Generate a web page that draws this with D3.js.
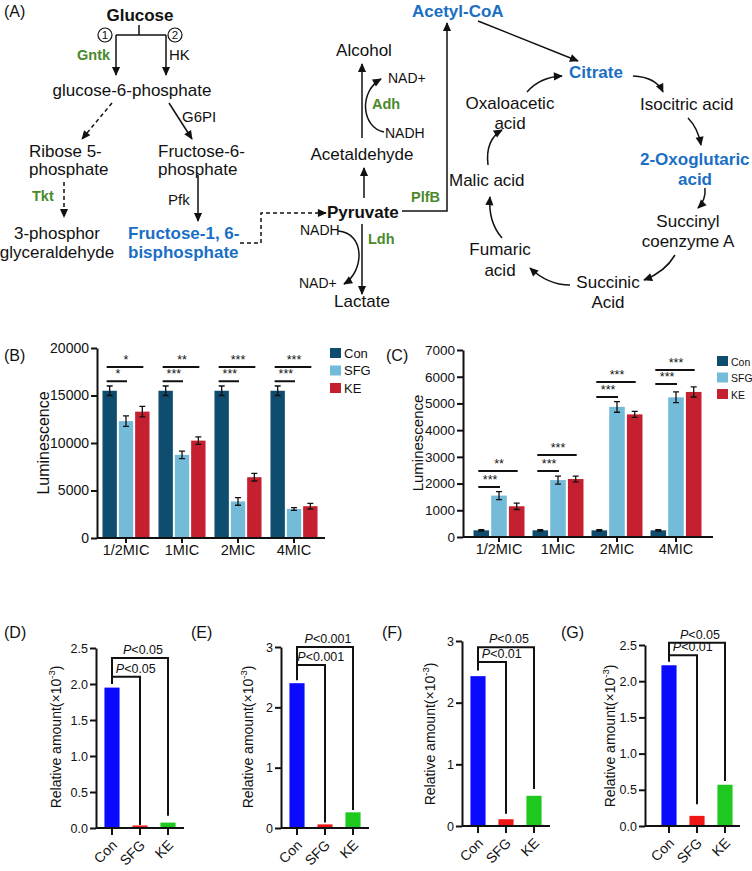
<!DOCTYPE html>
<html><head><meta charset="utf-8">
<script src="https://cdn.jsdelivr.net/npm/d3@7"></script>
<style>
body{margin:0;background:#fff}
svg{display:block}
text{font-family:"Liberation Sans",Arial,sans-serif;fill:#111}
</style>
</head><body>
<svg id="fig" width="752" height="871"></svg>
<script>
// ---------------- DATA ----------------
const mics = ["1/2MIC", "1MIC", "2MIC", "4MIC"];
const groups = ["Con", "SFG", "KE"];

// Panel B
const bCon = [15500, 15500, 15500, 15500];
const bSFG = [12300, 8750, 3850, 3050];
const bKE  = [13300, 10250, 6400, 3350];
const bConErr = [500, 500, 500, 500];
const bSFGErr = [550, 400, 400, 150];
const bKEErr  = [550, 400, 400, 300];
const bTicks = [0, 5000, 10000, 15000, 20000];
const bSigShort = ["*", "***", "***", "***"];
const bSigLong  = ["*", "**", "***", "***"];
const bSigShortY = [16500, 16500, 16500, 16500];
const bSigLongY  = [18000, 18000, 18000, 18000];

// Panel C
const cCon = [250, 250, 250, 250];
const cSFG = [1550, 2130, 4870, 5230];
const cKE  = [1150, 2170, 4590, 5430];
const cConErr = [25, 25, 25, 25];
const cSFGErr = [150, 150, 200, 200];
const cKEErr  = [120, 110, 110, 190];
const cTicks = [0, 1000, 2000, 3000, 4000, 5000, 6000, 7000];
const cSigShort = ["***", "***", "***", "***"];
const cSigLong  = ["**", "***", "***", "***"];
const cSigShortY = [1870, 2470, 5240, 5730];
const cSigLongY  = [2470, 3070, 5800, 6250];

// Panels D-G
const dVals = [1.95, 0.035, 0.075];
const eVals = [2.40, 0.06, 0.26];
const fVals = [2.43, 0.11, 0.49];
const gVals = [2.22, 0.14, 0.57];
const ticks25 = [0, 0.5, 1.0, 1.5, 2.0, 2.5];
const ticks3 = [0, 1, 2, 3];
// brackets: [inner y, outer y, con leg, SFG leg, KE leg]
const dBr = [2.10, 2.36, 2.00, 0.04, 0.17];
const eBr = [2.70, 3.00, 2.45, 0.09, 0.30];
const fBr = [2.66, 2.90, 2.52, 0.20, 0.60];
const gBr = [2.36, 2.53, 2.27, 0.30, 0.62];
const dP = ["P<0.05", "P<0.05"];
const eP = ["P<0.001", "P<0.001"];
const fP = ["P<0.01", "P<0.05"];
const gP = ["P<0.01", "P<0.05"];

// ---------------- DRAW ----------------
const svg = d3.select("#fig");
const defs = svg.append("defs");
defs.append("marker").attr("id", "ah")
  .attr("viewBox", "0 0 10 10").attr("refX", 9).attr("refY", 5)
  .attr("markerWidth", 10).attr("markerHeight", 9)
  .attr("markerUnits", "userSpaceOnUse").attr("orient", "auto")
  .append("path").attr("d", "M0,0.5 L10,5 L0,9.5 Z").attr("fill", "#111");

const BLUE = "#1a6fc4", GREEN = "#4a8a2c";

function label(g, x, y, s, o = {}) {
  const t = g.append("text").attr("x", x).attr("y", y).text(s)
    .attr("font-size", o.size || 17)
    .attr("text-anchor", o.anchor || "start");
  if (o.bold) t.attr("font-weight", "bold");
  if (o.color) t.style("fill", o.color);
  return t;
}

// ---------- Panel A : pathway ----------
const A = svg.append("g");
label(A, 4, 17, "(A)", {size: 16});

const nodes = [
  ["Glucose", 140, 21, "middle", "bold", null],
  ["glucose-6-phosphate", 132, 96, "middle", null, null],
  ["Ribose 5-", 29, 157, "start", null, null],
  ["phosphate", 29, 175, "start", null, null],
  ["Fructose-6-", 158, 157, "start", null, null],
  ["phosphate", 158, 175, "start", null, null],
  ["3-phosphor", 57, 239, "middle", null, null],
  ["glyceraldehyde", 57, 258, "middle", null, null],
  ["Fructose-1, 6-", 128, 239, "start", "bold", BLUE],
  ["bisphosphate", 128, 258, "start", "bold", BLUE],
  ["Pyruvate", 327, 218, "start", "bold", null],
  ["Acetaldehyde", 362, 160, "middle", null, null],
  ["Alcohol", 364, 56, "middle", null, null],
  ["Lactate", 362, 307, "middle", null, null],
  ["Acetyl-CoA", 412, 17, "start", "bold", BLUE],
  ["Citrate", 569, 78, "start", "bold", BLUE],
  ["Isocitric acid", 640, 110, "start", null, null],
  ["2-Oxoglutaric", 640, 165, "start", "bold", BLUE],
  ["acid", 695, 185, "middle", "bold", BLUE],
  ["Succinyl", 688, 227, "middle", null, null],
  ["coenzyme A", 688, 247, "middle", null, null],
  ["Succinic", 608, 288, "middle", null, null],
  ["Acid", 608, 308, "middle", null, null],
  ["Fumaric", 500, 255, "middle", null, null],
  ["acid", 500, 276, "middle", null, null],
  ["Malic acid", 449, 186, "start", null, null],
  ["Oxaloacetic", 510, 109, "middle", null, null],
  ["acid", 510, 129, "middle", null, null]
];
nodes.forEach(n => label(A, n[1], n[2], n[0], {anchor: n[3], bold: n[4], color: n[5]}));

const cofactors = [["NAD+", 388, 83], ["NADH", 385, 138], ["NADH", 300, 235], ["NAD+", 299, 288]];
cofactors.forEach(n => label(A, n[1], n[2], n[0], {size: 14}));
const enzymesG = [["Gntk", 77, 60], ["Tkt", 32, 201], ["Adh", 372, 109], ["PlfB", 411, 202], ["Ldh", 368, 244]];
enzymesG.forEach(n => label(A, n[1], n[2], n[0], {size: 14.5, bold: true, color: GREEN}));
const enzymes = [["HK", 169, 60], ["G6PI", 182, 122], ["Pfk", 168, 205]];
enzymes.forEach(n => label(A, n[1], n[2], n[0], {size: 15}));

[[105, 35, "1"], [175, 35, "2"]].forEach(c => {
  A.append("circle").attr("cx", c[0]).attr("cy", c[1]).attr("r", 7)
    .attr("fill", "none").attr("stroke", "#111").attr("stroke-width", 1.2);
  label(A, c[0], c[1] + 4, c[2], {size: 11.5, anchor: "middle"});
});

const plain = ["M139,25V35", "M116,35H166"];
const arrows = [
  "M116,35V75", "M166,35V75", "M169,103L192,139", "M198,175V221",
  "M364,198V168", "M362,138V64", "M384,132C362,128 358,92 381,79",
  "M362,224V294", "M338,231C366,233 364,272 344,284",
  "M402,211H447V23", "M478,21L578,61",
  "M633,76Q656,77 663,92", "M688,118Q698,128 701,145", "M705,188Q706,200 698,208",
  "M675,255Q665,272 644,280", "M570,285Q548,285 530,268", "M502,238Q488,222 490,197",
  "M488,165Q485,140 502,130", "M527,92Q540,77 562,76"
];
const dashed = ["M112,103L82,139", "M64,182V217", "M240,243H261V213H326"];
plain.forEach(d => A.append("path").attr("d", d).attr("fill", "none").attr("stroke", "#111").attr("stroke-width", 1.5));
arrows.forEach(d => A.append("path").attr("d", d).attr("fill", "none").attr("stroke", "#111").attr("stroke-width", 1.5).attr("marker-end", "url(#ah)"));
dashed.forEach(d => A.append("path").attr("d", d).attr("fill", "none").attr("stroke", "#111").attr("stroke-width", 1.5).attr("stroke-dasharray", "4,3").attr("marker-end", "url(#ah)"));

// ---------- Panels B, C ----------
const COLS = {Con: "#0f4d6f", SFG: "#74bbd9", KE: "#c42030"};

function styleAxis(g, fs) {
  g.selectAll("path.domain").attr("stroke", "#111").attr("stroke-width", 2);
  g.selectAll(".tick line").attr("stroke", "#111").attr("stroke-width", 2);
  g.selectAll(".tick text").attr("font-size", fs).style("fill", "#111")
    .attr("font-family", '"Liberation Sans",Arial,sans-serif');
}

function grouped(cfg) {
  const g = svg.append("g");
  const x0 = d3.scaleBand().domain(mics).range(cfg.xr).paddingInner(cfg.pi).paddingOuter(cfg.pi / 2);
  const x1 = d3.scaleBand().domain(groups).range([0, x0.bandwidth()]).paddingInner(0.12);
  const y = d3.scaleLinear().domain([0, cfg.max]).range(cfg.yr);
  const series = {Con: cfg.con, SFG: cfg.sfg, KE: cfg.ke};
  const errs = {Con: cfg.conE, SFG: cfg.sfgE, KE: cfg.keE};

  groups.forEach(k => {
    mics.forEach((m, i) => {
      const xx = x0(m) + x1(k);
      g.append("rect").attr("x", xx).attr("width", x1.bandwidth())
        .attr("y", y(series[k][i])).attr("height", y(0) - y(series[k][i]))
        .attr("fill", COLS[k]);
      const cx = xx + x1.bandwidth() / 2;
      const hi = y(series[k][i] + errs[k][i]), lo = y(series[k][i] - errs[k][i]);
      g.append("path").attr("d", `M${cx},${hi}V${lo}M${cx - 3},${hi}H${cx + 3}M${cx - 3},${lo}H${cx + 3}`)
        .attr("stroke", "#111").attr("stroke-width", 1.3).attr("fill", "none");
    });
  });
  // significance
  mics.forEach((m, i) => {
    const cC = x0(m) + x1("Con") + x1.bandwidth() / 2;
    const cS = x0(m) + x1("SFG") + x1.bandwidth() / 2;
    const cK = x0(m) + x1("KE") + x1.bandwidth() / 2;
    const ys = y(cfg.sigSY[i]), yl = y(cfg.sigLY[i]);
    g.append("path").attr("d", `M${cC - 3},${ys}H${cS + 1}M${cC - 3},${yl}H${cK + 1}`)
      .attr("stroke", "#111").attr("stroke-width", 2);
    label(g, (cC + cS) / 2, ys - 3, cfg.sigS[i], {size: 12.5, anchor: "middle"});
    label(g, (cC + cK) / 2, yl - 3, cfg.sigL[i], {size: 12.5, anchor: "middle"});
  });
  // axes
  const ya = g.append("g").attr("transform", `translate(${cfg.ax},0)`)
    .call(d3.axisLeft(y).tickValues(cfg.ticks).tickFormat(d3.format("d")).tickSize(6).tickPadding(2).tickSizeOuter(0));
  styleAxis(ya, cfg.tfs);
  const xa = g.append("g").attr("transform", `translate(0,${cfg.yr[0]})`)
    .call(d3.axisBottom(x0).tickSize(5).tickPadding(2).tickSizeOuter(0));
  xa.select("path.domain").remove();
  styleAxis(xa, 14.5);
  g.append("line").attr("x1", cfg.ax).attr("x2", cfg.axEnd).attr("y1", cfg.yr[0]).attr("y2", cfg.yr[0])
    .attr("stroke", "#111").attr("stroke-width", 2);
  // y label
  label(g, 0, 0, "Luminescence", {size: cfg.lfs, anchor: "middle"})
    .attr("transform", `translate(${cfg.ylx},${cfg.yly}) rotate(-90)`);
  // legend
  groups.forEach((k, i) => {
    g.append("rect").attr("x", cfg.lx).attr("y", cfg.ly + i * cfg.lstep).attr("width", 11).attr("height", 10).attr("fill", COLS[k]);
    label(g, cfg.lx + 14, cfg.ly + i * cfg.lstep + 9.5, k, {size: cfg.lgfs});
  });
  label(g, cfg.px, cfg.py, cfg.pl, {size: 16});
}

grouped({xr: [98, 322], pi: 0.16, yr: [538, 348], max: 20000, ax: 97, axEnd: 325,
  con: bCon, sfg: bSFG, ke: bKE, conE: bConErr, sfgE: bSFGErr, keE: bKEErr, ticks: bTicks,
  sigS: bSigShort, sigL: bSigLong, sigSY: bSigShortY, sigLY: bSigLongY, tfs: 14,
  ylx: 49, yly: 443, lfs: 16, lx: 330, ly: 348, lstep: 17.5, lgfs: 13, px: 4, py: 361, pl: "(B)"});

grouped({xr: [469.5, 705.5], pi: 0.136, yr: [537, 350], max: 7000, ax: 463, axEnd: 713,
  con: cCon, sfg: cSFG, ke: cKE, conE: cConErr, sfgE: cSFGErr, keE: cKEErr, ticks: cTicks,
  sigS: cSigShort, sigL: cSigLong, sigSY: cSigShortY, sigLY: cSigLongY, tfs: 13.5,
  ylx: 423, yly: 443, lfs: 15, lx: 717, ly: 356, lstep: 16.5, lgfs: 10.5, px: 386, py: 361, pl: "(C)"});

// ---------- Panels D-G ----------
const BCOL = ["#0a0aff", "#f01616", "#1ec81e"];
function small(cfg) {
  const g = svg.append("g");
  const x = d3.scaleBand().domain(groups).range([cfg.ax + 2, cfg.ax + 86]).paddingInner(0.46).paddingOuter(0.23);
  const y = d3.scaleLinear().domain([0, cfg.max]).range(cfg.yr);
  cfg.vals.forEach((v, i) => {
    g.append("rect").attr("x", x(groups[i]) + cfg.shift).attr("width", x.bandwidth())
      .attr("y", y(v)).attr("height", y(0) - y(v)).attr("fill", BCOL[i]);
  });
  const cx = k => x(k) + cfg.shift + x.bandwidth() / 2;
  const [bi, bo, lc, ls, lk] = cfg.br;
  g.append("path").attr("d",
    `M${cx("Con")},${y(lc)}V${y(bo)}H${cx("KE")}V${y(lk)}M${cx("Con")},${y(bi)}H${cx("SFG")}V${y(ls)}`)
    .attr("fill", "none").attr("stroke", "#111").attr("stroke-width", 2);
  function ptext(xp, yp, s) {
    const t = g.append("text").attr("x", xp).attr("y", yp).attr("font-size", 12.5).attr("text-anchor", "middle");
    t.append("tspan").attr("font-style", "italic").text(s[0]);
    t.append("tspan").text(s.slice(1));
  }
  ptext(cx("Con") + 0.85 * (cx("SFG") - cx("Con")), y(bi) - 4, cfg.p[0]);
  ptext((cx("Con") + cx("KE")) / 2 + 3, y(bo) - 4, cfg.p[1]);

  const ya = g.append("g").attr("transform", `translate(${cfg.ax},0)`)
    .call(d3.axisLeft(y).tickValues(cfg.ticks).tickFormat(cfg.fmt).tickSize(6).tickPadding(2).tickSizeOuter(0));
  styleAxis(ya, 12.5);
  const xa = g.append("g").attr("transform", `translate(${cfg.shift},${cfg.yr[0]})`)
    .call(d3.axisBottom(x).tickSize(7).tickFormat(d => d));
  xa.select("path.domain").remove();
  styleAxis(xa, 14);
  xa.selectAll(".tick text").attr("text-anchor", "end").attr("dy", 0).attr("y", 0)
    .attr("transform", "translate(6,18) rotate(-45)");
  g.append("line").attr("x1", cfg.ax).attr("x2", cfg.axEnd).attr("y1", cfg.yr[0]).attr("y2", cfg.yr[0])
    .attr("stroke", "#111").attr("stroke-width", 2);
  const yl = g.append("text").attr("font-size", 14).attr("text-anchor", "middle")
    .attr("transform", `translate(${cfg.ylx},${cfg.yly}) rotate(-90)`);
  yl.append("tspan").text("Relative amount(\u00d710");
  yl.append("tspan").attr("font-size", 9.5).attr("dy", -6).text("-3");
  yl.append("tspan").attr("dy", 6).text(")");
  label(g, cfg.px, cfg.py, cfg.pl, {size: 16});
}
const f1 = d => d3.format(".1f")(d);
const f0 = d => d3.format("d")(d);
small({ax: 96, axEnd: 184, shift: 0, yr: [828, 648], max: 2.5, vals: dVals, br: dBr, p: dP, ticks: ticks25, fmt: f1, ylx: 61, yly: 737, px: 4, py: 638, pl: "(D)"});
small({ax: 281, axEnd: 369, shift: 0, yr: [828, 647], max: 3, vals: eVals, br: eBr, p: eP, ticks: ticks3, fmt: f0, ylx: 253, yly: 737, px: 191, py: 638, pl: "(E)"});
small({ax: 462, axEnd: 550, shift: 0, yr: [826, 641], max: 3, vals: fVals, br: fBr, p: fP, ticks: ticks3, fmt: f0, ylx: 435, yly: 734, px: 382, py: 638, pl: "(F)"});
small({ax: 645, axEnd: 740, shift: 8, yr: [826, 645], max: 2.5, vals: gVals, br: gBr, p: gP, ticks: ticks25, fmt: f1, ylx: 615, yly: 736, px: 561, py: 638, pl: "(G)"});
</script>
</body></html>
